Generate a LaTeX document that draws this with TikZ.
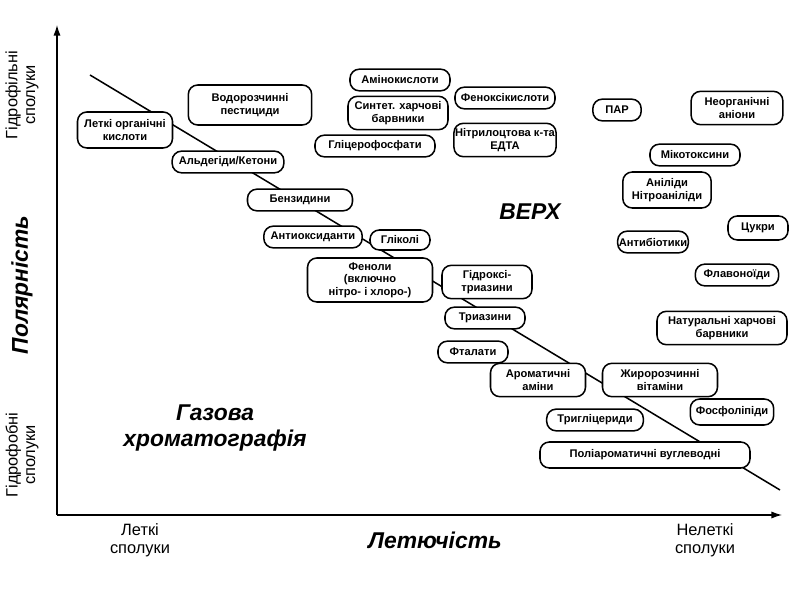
\documentclass[tikz,border=0pt]{standalone}
\usepackage{fontspec}
\setmainfont{Liberation Sans}
\usetikzlibrary{arrows.meta}
\tikzset{
  box/.style={draw, line width=1.3pt, fill=white, rounded corners=8pt, align=center,
    inner sep=1pt, font=\fontsize{9.5}{10.5}\selectfont\bfseries},
  axlabel/.style={align=center, font=\fontsize{14}{15}\selectfont},
  big/.style={align=center, font=\fontsize{19.5}{22}\selectfont\bfseries\itshape}
}
\begin{document}
\begin{tikzpicture}[x=0.03cm, y=-0.03cm]
		\useasboundingbox (0,0) rectangle (800,600);
		% axes
		\coordinate (o) at (57,515);
		\coordinate (ytop) at (57,25);
		\coordinate (xend) at (782,515);
		\draw[line width=1pt, -{Latex[length=9pt,width=6pt]}] (o) -- (ytop);
		\draw[line width=1pt, -{Latex[length=9pt,width=6pt]}] (o) -- (xend);
		% diagonal
		\coordinate (d1) at (90,75);
		\coordinate (d2) at (780,490);
		\draw[line width=1.3pt] (d1) -- (d2);
		% axis labels
		\node(hfil)[axlabel, rotate=90] at (22,95) {Гідрофільні\\сполуки};
		\node(hfob)[axlabel, rotate=90] at (22,455) {Гідрофобні\\сполуки};
		\node(pol)[big, rotate=90] at (22,285) {Полярність};
		\node(let)[axlabel] at (140,540) {Леткі\\сполуки};
		\node(lch)[big] at (435,540) {Летючість};
		\node(nlet)[axlabel] at (705,540) {Нелеткі\\сполуки};
		\node(verh)[big] at (530,212) {ВЕРХ};
		\node(gas)[big] at (215,428) {Газова\\хроматографія};
		% boxes
		\node(lok)[box, minimum width=2.85cm, minimum height=1.08cm] at (125,130) {Леткі органічні\\кислоти};
		\node(vp)[box, minimum width=3.7cm, minimum height=1.2cm] at (250,105) {Водорозчинні\\пестициди};
		\node(amk)[box, minimum width=3cm, minimum height=0.65cm] at (400,80) {Амінокислоти};
		\node(shb)[box, minimum width=3cm, minimum height=1cm] at (398,113) {Синтет. харчові\\барвники};
		\node(glf)[box, minimum width=3.6cm, minimum height=0.65cm] at (375,146) {Гліцерофосфати};
		\node(fk)[box, minimum width=3cm, minimum height=0.65cm] at (505,98) {Феноксікислоти};
		\node(edta)[box, minimum width=3cm, minimum height=1cm] at (505,140) {Нітрилоцтова к-та\\ЕДТА};
		\node(par)[box, minimum width=1.45cm, minimum height=0.65cm] at (617,110) {ПАР};
		\node(nan)[box, minimum width=2.75cm, minimum height=1cm] at (737,108) {Неорганічні\\аніони};
		\node(mik)[box, minimum width=2.7cm, minimum height=0.65cm] at (695,155) {Мікотоксини};
		\node(anl)[box, minimum width=2.65cm, minimum height=1.08cm] at (667,190) {Аніліди\\Нітроаніліди};
		\node(cuk)[box, minimum width=1.8cm, minimum height=0.72cm] at (758,228) {Цукри};
		\node(ab)[box, minimum width=2.05cm, minimum height=0.65cm] at (653,242) {Антибіотики};
		\node(flv)[box, minimum width=2.5cm, minimum height=0.65cm] at (737,275) {Флавоноїди};
		\node(nhb)[box, minimum width=3.9cm, minimum height=1cm] at (722,328) {Натуральні харчові\\барвники};
		\node(ak)[box, minimum width=3.35cm, minimum height=0.65cm] at (228,162) {Альдегіди/Кетони};
		\node(bz)[box, minimum width=3.15cm, minimum height=0.65cm] at (300,200) {Бензидини};
		\node(ao)[box, minimum width=2.95cm, minimum height=0.65cm] at (313,237) {Антиоксиданти};
		\node(glk)[box, minimum width=1.8cm, minimum height=0.6cm] at (400,240) {Гліколі};
		\node(fen)[box, minimum width=3.75cm, minimum height=1.32cm] at (370,280) {Феноли\\(включно\\нітро- і хлоро-)};
		\node(gtr)[box, minimum width=2.7cm, minimum height=1cm] at (487,282) {Гідроксі-\\триазини};
		\node(tr)[box, minimum width=2.4cm, minimum height=0.65cm] at (485,318) {Триазини};
		\node(ft)[box, minimum width=2.1cm, minimum height=0.65cm] at (473,352) {Фталати};
		\node(am)[box, minimum width=2.85cm, minimum height=1cm] at (538,380) {Ароматичні\\аміни};
		\node(zv)[box, minimum width=3.45cm, minimum height=1cm] at (660,380) {Жиророзчинні\\вітаміни};
		\node(tg)[box, minimum width=2.9cm, minimum height=0.65cm] at (595,420) {Тригліцериди};
		\node(fl)[box, minimum width=2.5cm, minimum height=0.78cm] at (732,412) {Фосфоліпіди};
		\node(pav)[box, minimum width=6.3cm, minimum height=0.78cm] at (645,455) {Поліароматичні вуглеводні};
\end{tikzpicture}
\end{document}
